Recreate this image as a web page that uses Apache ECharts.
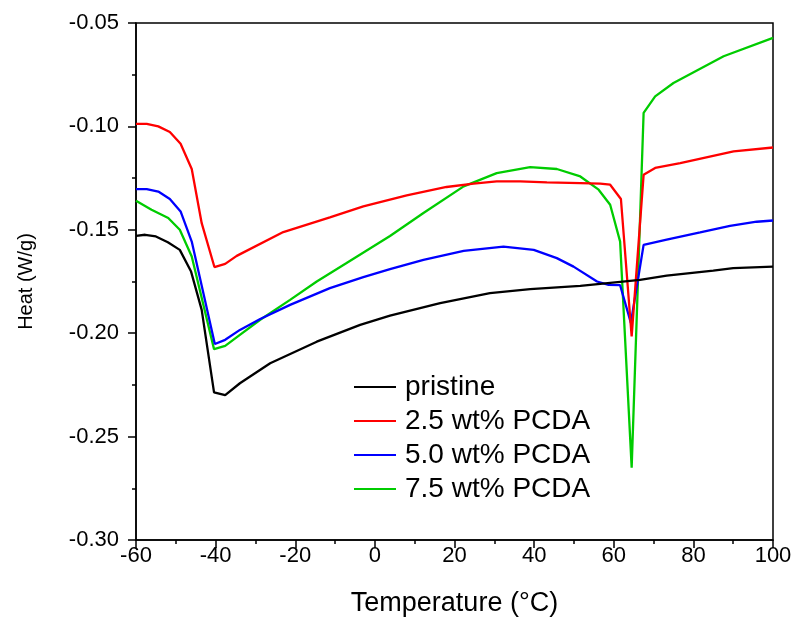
<!DOCTYPE html>
<html>
<head>
<meta charset="utf-8">
<script src="https://cdn.jsdelivr.net/npm/echarts@6/dist/echarts.min.js"></script>
<style>html,body{margin:0;padding:0;background:#fff}#c{width:796px;height:622px}</style>
</head>
<body>
<div id="c"></div>
<script>
var seriesNames = ['pristine', '2.5 wt% PCDA', '5.0 wt% PCDA', '7.5 wt% PCDA'];
var seriesColors = ['#000000', '#ff0000', '#0000ff', '#00cc00'];
var xTicks = [-60, -40, -20, 0, 20, 40, 60, 80, 100];
var yTicks = [-0.30, -0.25, -0.20, -0.15, -0.10, -0.05];

var pristine = [[-60,-0.1529],[-57.7,-0.1524],[-55,-0.1532],[-52,-0.1560],[-49,-0.1597],[-46.2,-0.1700],[-43.5,-0.1887],[-40.4,-0.2286],[-37.6,-0.2299],[-33.9,-0.2242],[-26.3,-0.2145],[-14.6,-0.2041],[-3.7,-0.1960],[3.8,-0.1915],[16.4,-0.1855],[28.9,-0.1806],[39,-0.1787],[51.6,-0.1771],[56.6,-0.1761],[66.6,-0.1742],[73.3,-0.1722],[85,-0.1697],[90,-0.1685],[100,-0.1678]];
var pcda25 = [[-60,-0.0988],[-57.3,-0.0988],[-54.4,-0.1000],[-51.5,-0.1027],[-48.8,-0.1084],[-46,-0.1206],[-43.5,-0.1468],[-40.3,-0.1680],[-37.6,-0.1665],[-34.7,-0.1626],[-23,-0.1511],[-11.3,-0.1440],[-2.9,-0.1387],[8,-0.1333],[18,-0.1293],[24.8,-0.1277],[30.6,-0.1266],[36.5,-0.1266],[43.2,-0.1271],[51.6,-0.1274],[56.6,-0.1277],[59.1,-0.1282],[61.8,-0.1351],[64.5,-0.2016],[67.5,-0.1234],[70.4,-0.1201],[76.7,-0.1177],[90.1,-0.1121],[100,-0.1102]];
var pcda50 = [[-60,-0.1303],[-57.3,-0.1303],[-54.4,-0.1315],[-51.5,-0.1351],[-48.8,-0.1411],[-46,-0.1557],[-40.2,-0.2052],[-37.6,-0.2032],[-33.9,-0.1984],[-28.8,-0.1931],[-21.3,-0.1863],[-11.3,-0.1782],[-2.9,-0.1729],[3.8,-0.1690],[12.2,-0.1645],[22.3,-0.1602],[32.3,-0.1581],[39.9,-0.1597],[45.7,-0.1637],[49.9,-0.1678],[55.8,-0.1750],[58.7,-0.1766],[61.6,-0.1768],[64.3,-0.1950],[67.5,-0.1573],[73.3,-0.1548],[81.7,-0.1513],[89.2,-0.1481],[95.9,-0.1461],[100,-0.1455]];
var pcda75 = [[-60,-0.1360],[-56.1,-0.1403],[-51.9,-0.1443],[-49,-0.1500],[-46,-0.1629],[-40.4,-0.2077],[-37.6,-0.2061],[-33.9,-0.2008],[-28.8,-0.1935],[-21.3,-0.1839],[-14.6,-0.1750],[-7.1,-0.1661],[3.8,-0.1530],[12.2,-0.1419],[22.3,-0.1290],[30.6,-0.1226],[39,-0.1197],[45.7,-0.1206],[51.6,-0.1242],[56.2,-0.1306],[59.1,-0.1379],[61.6,-0.1557],[64.5,-0.2650],[67.5,-0.0935],[70.4,-0.0855],[75,-0.0790],[87.6,-0.0661],[100,-0.0572]];
var allData = [pristine, pcda25, pcda50, pcda75];

var FONT = 'Liberation Sans, Arial, sans-serif';
var chart = echarts.init(document.getElementById('c'), null, {renderer: 'canvas'});
var series = allData.map(function (d, i) {
  return {
    name: seriesNames[i], type: 'line', data: d, showSymbol: false, symbol: 'none',
    lineStyle: {color: seriesColors[i], width: 2.3}, itemStyle: {color: seriesColors[i]},
    z: 10 - i, animation: false
  };
});
chart.setOption({
  animation: false,
  backgroundColor: '#ffffff',
  grid: {left: 136, right: 23, top: 23, bottom: 82, show: true, borderColor: '#000', borderWidth: 1.5, backgroundColor: 'transparent'},
  legend: {
    data: seriesNames, orient: 'vertical', left: 354, top: 373, itemGap: 6, padding: 0,
    itemWidth: 42, itemHeight: 20, icon: 'path://M0,9 L42,9 L42,11 L0,11 Z',
    textStyle: {fontFamily: FONT, fontSize: 28, color: '#000', padding: [0,0,0,4]},
    selectedMode: false
  },
  xAxis: {
    type: 'value', min: xTicks[0], max: xTicks[xTicks.length - 1], interval: 20,
    name: 'Temperature (°C)', nameLocation: 'middle', nameGap: 50,
    nameTextStyle: {fontFamily: FONT, fontSize: 27, color: '#000'},
    axisLine: {show: true, onZero: false, lineStyle: {color: '#000', width: 1.5}},
    axisTick: {show: true, inside: false, length: 8, lineStyle: {color: '#000', width: 1.5}},
    minorTick: {show: true, splitNumber: 2, length: 4, lineStyle: {color: '#000', width: 1.5}},
    splitLine: {show: false},
    axisLabel: {fontFamily: FONT, fontSize: 22, color: '#000', margin: 5}
  },
  yAxis: {
    type: 'value', min: yTicks[0], max: yTicks[yTicks.length - 1], interval: 0.05,
    name: 'Heat (W/g)', nameLocation: 'middle', nameGap: 100,
    nameTextStyle: {fontFamily: FONT, fontSize: 20, color: '#000'},
    axisLine: {show: true, onZero: false, lineStyle: {color: '#000', width: 1.5}},
    axisTick: {show: true, inside: false, length: 8, lineStyle: {color: '#000', width: 1.5}},
    minorTick: {show: true, splitNumber: 2, length: 4, lineStyle: {color: '#000', width: 1.5}},
    splitLine: {show: false},
    axisLabel: {fontFamily: FONT, fontSize: 22, color: '#000', margin: 17, formatter: function (v) { return v.toFixed(2); }}
  },
  series: series
});
</script>
</body>
</html>
